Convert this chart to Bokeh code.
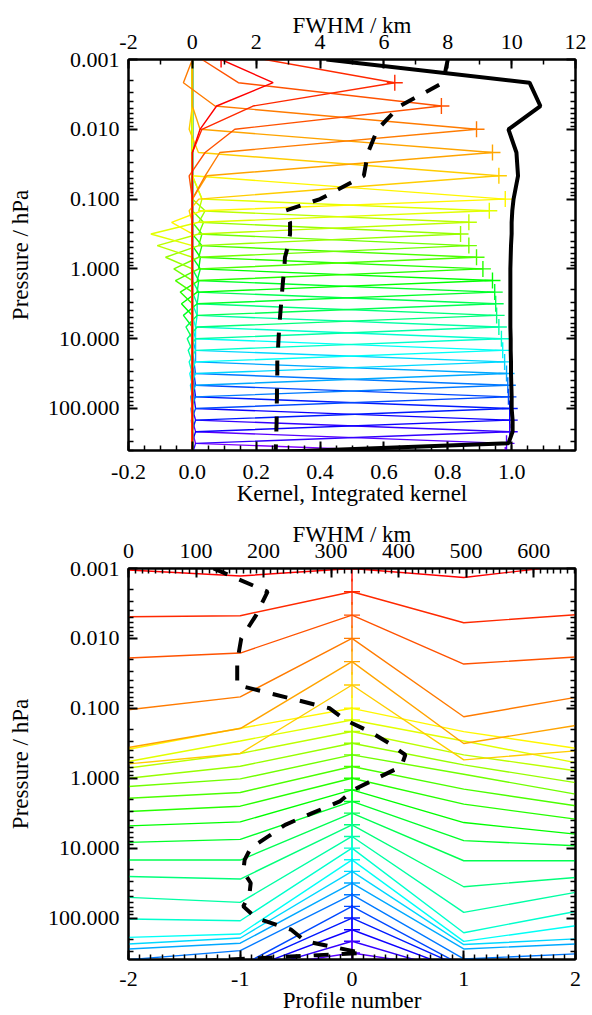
import numpy as np
import colorsys
from bokeh.plotting import figure
from bokeh.layouts import column
from bokeh.models import (Range1d, LinearAxis, LogAxis, SingleIntervalTicker, FixedTicker,
                          CustomJSTickFormatter)
from bokeh.embed import file_html
from bokeh.resources import INLINE

# ---------------- data ----------------
pressure = [0.001, 0.00215, 0.00464, 0.01, 0.0215, 0.0464, 0.1, 0.147, 0.215, 0.316,
            0.464, 0.681, 1.0, 1.47, 2.15, 3.16, 4.64, 6.81, 10.0, 14.7,
            21.5, 31.6, 46.4, 68.1, 100.0, 147.0, 215.0, 316.0, 464.0]

# vertical averaging kernel rows: diagonal and near-diagonal elements
kern_diag = [0.09, 0.634, 0.78, 0.89, 0.94, 0.96, 0.98, 0.93, 0.866, 0.84,
             0.866, 0.89, 0.91, 0.94, 0.947, 0.95, 0.953, 0.96, 0.968, 0.972,
             0.978, 0.984, 0.988, 0.99, 0.994, 0.994, 0.994, 0.984, 0.98]
kern_up1 = [0.0, 0.227, 0.144, 0.071, 0.024, 0.019, 0.0, 0.03, 0.02, 0.02,
            0.02, 0.02, 0.02, 0.02, 0.015, 0.015, 0.015, 0.015, 0.01, 0.01,
            0.01, 0.01, 0.01, 0.01, 0.01, 0.01, 0.01, 0.01, 0.01]
kern_dn1 = [0.253, 0.19, 0.133, 0.086, 0.045, 0.02, 0.03, 0.02, 0.02, 0.02,
            0.02, 0.02, 0.02, 0.015, 0.015, 0.015, 0.015, 0.01, 0.01, 0.01,
            0.01, 0.01, 0.01, 0.01, 0.01, 0.01, 0.01, 0.01, 0.0]
kern_up2 = [0.0, 0.0, 0.03, -0.028, 0.0, -0.01, 0.0, 0.0, 0.03, 0.04,
            0.035, 0.03, 0.03, 0.025, 0.025, 0.02, 0.02, 0.015, 0.015, 0.01,
            0.01, 0.01, 0.005, 0.005, 0.005, 0.005, 0.0, 0.0, 0.0]
kern_dn2 = [0.076, 0.03, 0.04, 0.04, 0.0, -0.01, -0.065, -0.13, -0.11, -0.084,
            -0.058, -0.053, -0.038, -0.034, -0.028, -0.02, -0.016, -0.013, -0.01, -0.008,
            -0.006, -0.005, -0.004, -0.003, -0.002, -0.002, -0.001, 0.0, 0.0]
kern_dn3 = [0.024, 0.0, -0.01, 0.0, 0.0, 0.0, 0.0, 0.0, 0.0, 0.0,
            0.0, 0.0, 0.0, 0.0, 0.0, 0.0, 0.0, 0.0, 0.0, 0.0,
            0.0, 0.0, 0.0, 0.0, 0.0, 0.0, 0.0, 0.0, 0.0]

integrated_kernel = [0.42, 1.056, 1.09, 0.99, 1.015, 1.02, 1.006, 1.002, 1.0, 1.0,
                     0.998, 0.997, 0.996, 0.996, 0.996, 0.996, 0.996, 0.996, 0.997, 0.997,
                     0.998, 0.998, 0.999, 1.0, 1.0, 1.003, 1.003, 0.99, 0.0]
fwhm_vertical_km = [8.0, 7.85, 6.5, 5.8, 5.5, 5.37, 4.0, 2.9, 3.06, 3.06,
                    3.0, 2.9, 2.88, 2.84, 2.81, 2.78, 2.75, 2.72, 2.7, 2.68,
                    2.66, 2.66, 2.65, 2.65, 2.64, 2.64, 2.63, 2.62, 2.6]

# horizontal kernels: displacement (decades of pressure) of each curve at profiles -2,-1,+1,+2
profiles = [-2, -1, 0, 1, 2]
hk_m2 = [0.021, 0.357, 0.614, 1.021, 1.229, 1.129, 0.586, 0.593, 0.521, 0.500,
         0.453, 0.453, 0.476, 0.514, 0.586, 0.671, 0.739, 0.871, 1.014, 1.110,
         1.039, 0.943, 0.929, 0.886, 0.786, 0.643, 0.500, 0.286, 0.143]
hk_m1 = [0.107, 0.343, 0.543, 0.836, 0.957, 0.979, 0.286, 0.300, 0.314, 0.329,
         0.343, 0.371, 0.400, 0.457, 0.543, 0.671, 0.776, 0.943, 1.039, 1.061,
         0.953, 0.861, 0.800, 0.857, 0.714, 0.600, 0.471, 0.243, 0.143]
hk_p1 = [0.129, 0.443, 0.700, 1.121, 1.171, 1.071, 0.334, 0.300, 0.333, 0.310,
         0.276, 0.323, 0.371, 0.467, 0.561, 0.681, 0.886, 1.086, 1.210, 1.167,
         1.047, 0.943, 0.919, 0.857, 0.714, 0.600, 0.471, 0.243, 0.143]
hk_p2 = [-0.057, 0.329, 0.600, 0.843, 0.914, 0.943, 0.571, 0.610, 0.561, 0.563,
         0.561, 0.561, 0.586, 0.633, 0.633, 0.681, 0.753, 0.800, 0.906, 0.943,
         0.966, 0.871, 0.847, 1.000, 1.000, 0.857, 0.714, 0.571, 0.286]
fwhm_horizontal_km = [126, 206, 189, 167, 161, 161, 298, 321, 357, 386,
                      410, 404, 368, 333, 313, 272, 232, 207, 181, 172,
                      170, 181, 179, 170, 189, 241, 262, 346, 0]

# ---------------- styling ----------------
FONT = "Liberation Serif"
n = len(pressure)
hues = np.interp(np.arange(n), [0, 6, 13, 19, 24, 28], [0, 58, 120, 178, 234, 270])
colors = []
for h in hues:
    r, g, b = colorsys.hsv_to_rgb(h / 360.0, 1.0, 1.0)
    colors.append("#%02x%02x%02x" % (int(round(r * 255)), int(round(g * 255)), int(round(b * 255))))

ytick_major = [0.001, 0.01, 0.1, 1.0, 10.0, 100.0]
ytick_minor = [k * 10.0 ** e for e in range(-3, 3) for k in range(2, 10)]


def fmt(digits):
    return CustomJSTickFormatter(code="return tick.toFixed(%d);" % digits)


def style_axis(ax, tick_standoff, label_standoff):
    ax.axis_label_text_font = FONT
    ax.axis_label_text_font_style = "normal"
    ax.axis_label_text_font_size = "23px"
    ax.axis_label_text_color = "black"
    ax.major_label_text_font = FONT
    ax.major_label_text_font_size = "22px"
    ax.major_label_text_color = "black"
    ax.axis_line_width = 2
    ax.axis_line_color = "black"
    ax.major_tick_line_width = 2
    ax.minor_tick_line_width = 1.5
    ax.major_tick_line_color = "black"
    ax.minor_tick_line_color = "black"
    ax.major_tick_in = 9
    ax.major_tick_out = 0
    ax.minor_tick_in = 5
    ax.minor_tick_out = 0
    ax.major_label_standoff = tick_standoff
    ax.axis_label_standoff = label_standoff


def log_yticker():
    return FixedTicker(ticks=ytick_major, minor_ticks=ytick_minor)


def make_fig(xr, yr, top, bottom):
    p = figure(frame_width=447, frame_height=391, x_range=xr, y_range=yr,
               y_axis_type="log", output_backend="svg", toolbar_location=None,
               min_border_left=128, min_border_right=17,
               min_border_top=top, min_border_bottom=bottom,
               background_fill_color="white", border_fill_color="white")
    p.grid.visible = False
    p.outline_line_color = "black"
    p.outline_line_width = 2
    yax = p.yaxis[0]
    yax.ticker = log_yticker()
    yax.formatter = fmt(3)
    yax.axis_label = "Pressure / hPa"
    style_axis(yax, 9, 12)
    rax = LogAxis(ticker=log_yticker(), formatter=CustomJSTickFormatter(code="return '';"))
    style_axis(rax, 0, 0)
    p.add_layout(rax, "right")
    return p


# ---------------- top panel ----------------
p1 = make_fig(Range1d(-0.2, 1.2), Range1d(400, 0.001), 59, 60)
p1.extra_x_ranges = {"fwhm": Range1d(-2, 12)}
xax = p1.xaxis[0]
xax.ticker = SingleIntervalTicker(interval=0.2, num_minor_ticks=4)
xax.formatter = fmt(1)
xax.axis_label = "Kernel, Integrated kernel"
style_axis(xax, 14, -1)
tax = LinearAxis(x_range_name="fwhm", axis_label="FWHM / km",
                 ticker=SingleIntervalTicker(interval=2, num_minor_ticks=2), formatter=fmt(0))
style_axis(tax, 11, -6)
p1.add_layout(tax, "above")

A = np.zeros((n, n))
for i in range(n):
    A[i, i] = kern_diag[i]
    for off, arr in ((-2, kern_up2), (-1, kern_up1), (1, kern_dn1), (2, kern_dn2), (3, kern_dn3)):
        j = i + off
        if 0 <= j < n:
            A[i, j] = arr[i]

for i in range(n - 1, -1, -1):
    p1.line(list(A[i]), pressure, line_color=colors[i], line_width=1.4)
p1.scatter(kern_diag, pressure, marker="cross", size=16, line_color=colors, line_width=1.4)
p1.line(integrated_kernel, pressure, line_color="black", line_width=4)
p1.line(fwhm_vertical_km, pressure, x_range_name="fwhm", line_color="black",
        line_width=4, line_dash="15 13")

# ---------------- bottom panel ----------------
p2 = make_fig(Range1d(-2, 2), Range1d(392, 0.001), 58, 56)
p2.extra_x_ranges = {"fwhm": Range1d(0, 662)}
xax2 = p2.xaxis[0]
xax2.ticker = SingleIntervalTicker(interval=1, num_minor_ticks=10)
xax2.formatter = fmt(0)
xax2.axis_label = "Profile number"
style_axis(xax2, 12, -1)
tax2 = LinearAxis(x_range_name="fwhm", axis_label="FWHM / km",
                  ticker=SingleIntervalTicker(interval=100, num_minor_ticks=10), formatter=fmt(0))
style_axis(tax2, 11, -6)
p2.add_layout(tax2, "above")

for i in range(n - 1, -1, -1):
    pr = pressure[i]
    ys = [pr * 10 ** hk_m2[i], pr * 10 ** hk_m1[i], pr, pr * 10 ** hk_p1[i], pr * 10 ** hk_p2[i]]
    p2.line(profiles, ys, line_color=colors[i], line_width=1.4)
centre = [0] * n
p2.scatter(centre, pressure, marker="dash", size=16, line_color=colors, line_width=1.4)
p2.scatter(centre, pressure, marker="dash", size=26, angle=np.pi / 2, line_color=colors, line_width=1.4)
p2.line(fwhm_horizontal_km, pressure, x_range_name="fwhm", line_color="black",
        line_width=4, line_dash="15 13")

layout = column(p1, p2)
open("out.html", "w").write(file_html(layout, INLINE))
